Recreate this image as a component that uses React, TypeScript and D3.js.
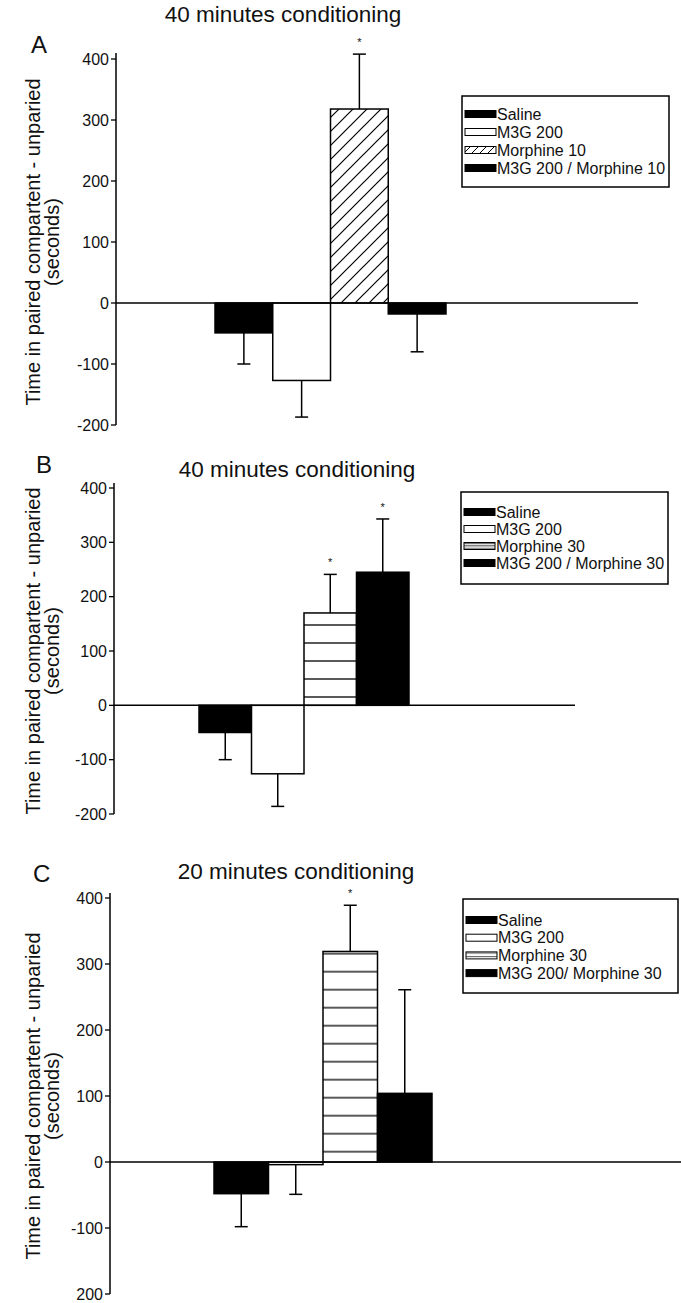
import React from "react";
import * as d3 from "d3";

// Treatment groups (order of bars, left to right)
const groupKeys = ["saline", "m3g", "morphine", "combo"];

// Legend labels per panel
const legendA = ["Saline", "M3G 200", "Morphine 10", "M3G 200 / Morphine 10"];
const legendB = ["Saline", "M3G 200", "Morphine 30", "M3G 200 / Morphine 30"];
const legendC = ["Saline", "M3G 200", "Morphine 30", "M3G 200/ Morphine 30"];

// Mean preference score (s) and SEM per group
const meanA = [-49, -127, 318, -18];
const semA = [51, 60, 90, 62];
const meanB = [-50, -126, 170, 245];
const semB = [50, 60, 71, 98];
const meanC = [-48, -4, 319, 104];
const semC = [50, 45, 70, 157];

// Significance markers
const sigA = [false, false, true, false];
const sigB = [false, false, true, true];
const sigC = [false, false, true, false];

// Y axis ticks
const tickValues = [400, 300, 200, 100, 0, -100, -200];
const tickLabelsAB = ["400", "300", "200", "100", "0", "-100", "-200"];
const tickLabelsC = ["400", "300", "200", "100", "0", "-100", "200"];

const titles = ["40 minutes conditioning", "40 minutes conditioning", "20 minutes conditioning"];
const letters = ["A", "B", "C"];

const FONT = "'Liberation Sans', Arial, Helvetica, sans-serif";

type Layout = {
  axisX: number;
  y400: number;
  yMinus200: number;
  axisTop: number;
  zeroEnd: number;
  bandStart: number;
  bandEnd: number;
  titleX: number;
  titleY: number;
  letterX: number;
  letterY: number;
  legend: { x: number; y: number; w: number; h: number; row0: number; step: number };
  hatch: "diag" | "hA" | "hB";
  hatchOffset: number;
};

const layouts: Layout[] = [
  {
    axisX: 116, y400: 59, yMinus200: 425, axisTop: 53, zeroEnd: 638,
    bandStart: 215, bandEnd: 446, titleX: 283, titleY: 22, letterX: 31, letterY: 53,
    legend: { x: 462, y: 96, w: 207, h: 91, row0: 114, step: 18 },
    hatch: "diag", hatchOffset: 0,
  },
  {
    axisX: 114, y400: 488, yMinus200: 814, axisTop: 483, zeroEnd: 575,
    bandStart: 199, bandEnd: 409, titleX: 297, titleY: 477, letterX: 36, letterY: 473,
    legend: { x: 461, y: 492, w: 207, h: 92, row0: 512, step: 17 },
    hatch: "hA", hatchOffset: 688,
  },
  {
    axisX: 110, y400: 898, yMinus200: 1294, axisTop: 893, zeroEnd: 681,
    bandStart: 214, bandEnd: 432, titleX: 296, titleY: 879, letterX: 33, letterY: 882,
    legend: { x: 463, y: 899, w: 215, h: 94, row0: 920, step: 17.7 },
    hatch: "hB", hatchOffset: 1142.7,
  },
];

function Panel(props: {
  idx: number;
  means: number[];
  sems: number[];
  sig: boolean[];
  legend: string[];
  tickLabels: string[];
}) {
  const { idx, means, sems, sig, legend, tickLabels } = props;
  const L = layouts[idx];
  const y = d3.scaleLinear().domain([-200, 400]).range([L.yMinus200, L.y400]);
  const x = d3.scaleBand<string>().domain(groupKeys).range([L.bandStart, L.bandEnd]).padding(0);
  const y0 = y(0);
  const hatchFill = `url(#bar-${L.hatch}-${idx})`;
  const fills = ["#000", "#fff", hatchFill, "#000"];
  const swatchFills = ["#000", "#fff", `url(#sw-${L.hatch}-${idx})`, "#000"];
  const cap = 6.5;
  const midY = (L.y400 + L.yMinus200) / 2;
  const sw = 31;
  const swH = 7;

  return (
    <g>
      <defs>
        {L.hatch === "diag" ? (
          <>
            <pattern id={`bar-diag-${idx}`} patternUnits="userSpaceOnUse" width={14} height={14}>
              <rect width={14} height={14} fill="#fff" />
              <path d="M0,14 L14,0 M-3.5,3.5 L3.5,-3.5 M10.5,17.5 L17.5,10.5" stroke="#000" strokeWidth={1.2} />
            </pattern>
            <pattern id={`sw-diag-${idx}`} patternUnits="userSpaceOnUse" width={8} height={8} x={L.legend.x + 3}>
              <rect width={8} height={8} fill="#fff" />
              <path d="M0,8 L8,0 M-2,2 L2,-2 M6,10 L10,6" stroke="#000" strokeWidth={1} />
            </pattern>
          </>
        ) : (
          <>
            <pattern id={`bar-${L.hatch}-${idx}`} patternUnits="userSpaceOnUse" width={10} height={18} y={L.hatchOffset}>
              <rect width={10} height={18} fill="#fff" />
              <line x1={0} x2={10} y1={9} y2={9} stroke="#222" strokeWidth={1.5} />
            </pattern>
            <pattern id={`sw-${L.hatch}-${idx}`} patternUnits="userSpaceOnUse" width={10}
              height={L.hatch === "hA" ? 2.4 : 3.4} y={0.5}>
              <rect width={10} height={4} fill="#fff" />
              <line x1={0} x2={10} y1={0.6} y2={0.6} stroke="#333" strokeWidth={0.9} />
            </pattern>
          </>
        )}
      </defs>

      {/* Titles */}
      <text x={L.titleX} y={L.titleY} textAnchor="middle" fontSize={22.5} fontFamily={FONT} fill="#111">
        {titles[idx]}
      </text>
      <text x={L.letterX} y={L.letterY} fontSize={24} fontFamily={FONT} fill="#111">
        {letters[idx]}
      </text>

      {/* Y axis title */}
      <g transform={`translate(0, ${midY})`} fontFamily={FONT} fontSize={20} fill="#111" textAnchor="middle">
        <text transform={`translate(40, 0) rotate(-90)`}>Time in paired compartent - unparied</text>
        <text transform={`translate(59, 0) rotate(-90)`}>(seconds)</text>
      </g>

      {/* Y axis */}
      <line x1={L.axisX} x2={L.axisX} y1={L.axisTop} y2={y(-200)} stroke="#000" strokeWidth={1.5} />
      {tickValues.map((t, i) => (
        <g key={t}>
          <line x1={L.axisX - 5} x2={L.axisX} y1={y(t)} y2={y(t)} stroke="#000" strokeWidth={1.3} />
          <text x={L.axisX - 7} y={y(t)} dy="0.36em" textAnchor="end" fontSize={16} fontFamily={FONT} fill="#111">
            {tickLabels[i]}
          </text>
        </g>
      ))}

      {/* Bars */}
      {groupKeys.map((k, i) => {
        const v = means[i];
        const top = Math.min(y(v), y0);
        const h = Math.abs(y(v) - y0);
        return (
          <rect key={k} x={x(k)} y={top} width={x.bandwidth()} height={h} fill={fills[i]} stroke="#000" strokeWidth={1.5} />
        );
      })}

      {/* Zero line */}
      <line x1={L.axisX} x2={L.zeroEnd} y1={y0} y2={y0} stroke="#000" strokeWidth={1.5} />

      {/* Error bars (one-sided, away from zero) */}
      {groupKeys.map((k, i) => {
        const v = means[i];
        const end = v >= 0 ? v + sems[i] : v - sems[i];
        const cx = (x(k) as number) + x.bandwidth() / 2;
        return (
          <g key={k} stroke="#000" strokeWidth={1.5}>
            <line x1={cx} x2={cx} y1={y(v)} y2={y(end)} />
            <line x1={cx - cap} x2={cx + cap} y1={y(end)} y2={y(end)} />
          </g>
        );
      })}

      {/* Significance stars */}
      {groupKeys.map((k, i) => {
        if (!sig[i]) return null;
        const end = means[i] + sems[i];
        const cx = (x(k) as number) + x.bandwidth() / 2;
        return (
          <text key={k} x={cx} y={y(end) - 8} textAnchor="middle" fontSize={11} fontFamily={FONT} fill="#111">
            *
          </text>
        );
      })}

      {/* Legend */}
      <rect x={L.legend.x} y={L.legend.y} width={L.legend.w} height={L.legend.h} fill="#fff" stroke="#000" strokeWidth={1.5} />
      {legend.map((lab, i) => {
        const cy = L.legend.row0 + i * L.legend.step;
        return (
          <g key={lab}>
            <rect x={L.legend.x + 3} y={cy - swH / 2} width={sw} height={swH} fill={swatchFills[i]} stroke="#000" strokeWidth={1} />
            <text x={L.legend.x + 3 + sw + 1} y={cy} dy="0.36em" fontSize={16} fontFamily={FONT} fill="#111">
              {lab}
            </text>
          </g>
        );
      })}
    </g>
  );
}

export default function App() {
  return (
    <div style={{ position: "absolute", left: 0, top: 0 }}>
      <svg width={681} height={1303} viewBox="0 0 681 1303" style={{ display: "block", background: "#fff" }}>
        <rect width={681} height={1303} fill="#fff" />
        <Panel idx={0} means={meanA} sems={semA} sig={sigA} legend={legendA} tickLabels={tickLabelsAB} />
        <Panel idx={1} means={meanB} sems={semB} sig={sigB} legend={legendB} tickLabels={tickLabelsAB} />
        <Panel idx={2} means={meanC} sems={semC} sig={sigC} legend={legendC} tickLabels={tickLabelsC} />
      </svg>
    </div>
  );
}
